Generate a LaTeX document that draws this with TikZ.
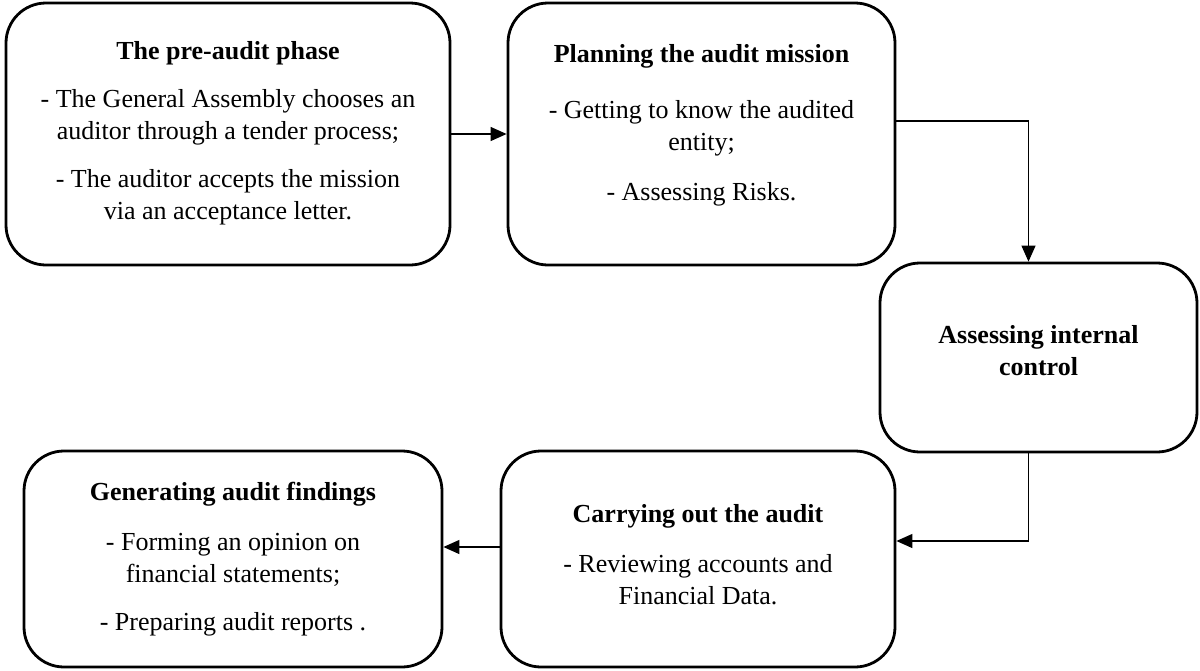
\documentclass[tikz,border=0pt]{standalone}
\usepackage{fontspec}
\setmainfont{Liberation Serif}
\usepackage{xcolor}
\usepackage{tikz}
\usetikzlibrary{arrows.meta,positioning}

\begin{document}
\begin{tikzpicture}[%
      x=0.5pt, y=-0.5pt,
      phase/.style={draw, line width=1.4pt, rounded corners=20pt, align=center,
        inner sep=0pt, font=\fontsize{13}{16}\selectfont},
      flow/.style={line width=0.6pt, -{Triangle[length=8pt,width=7pt]}}]
    \useasboundingbox (0,0) rectangle (1200,670);
    \node[phase, minimum width=222pt, minimum height=131pt] (pre) at (228,134)
      {\textbf{The pre-audit phase}\\[8pt]
       - The General Assembly chooses an\\ auditor through a tender process;\\[8pt]
       - The auditor accepts the mission\\ via an acceptance letter.\\[-12pt]};
    \node[phase, minimum width=193.5pt, minimum height=131pt] (plan) at (701.5,134)
      {\textbf{Planning the audit mission}\\[12pt]
       - Getting to know the audited\\ entity;\\[9pt]
       - Assessing Risks.\\[-4pt]};
    \node[phase, minimum width=158.5pt, minimum height=94.5pt] (control) at (1038.5,357.5)
      {\textbf{Assessing internal}\\ \textbf{control}\\[-9pt]};
    \node[phase, minimum width=197pt, minimum height=108pt] (audit) at (698,559)
      {\textbf{Carrying out the audit}\\[9pt]
       - Reviewing accounts and\\ Financial Data.\\[-11pt]};
    \node[phase, minimum width=209pt, minimum height=108pt] (findings) at (233,559)
      {\textbf{Generating audit findings}\\[9pt]
       - Forming an opinion on\\ financial statements;\\[8pt]
       - Preparing audit reports .};
    \draw[flow] (pre) -- (plan);
    \draw[flow] ([yshift=6.5pt]plan.east) -| ([xshift=-5pt]control.north);
    \draw[flow] ([xshift=-5pt]control.south) |- ([yshift=9pt]audit.east);
    \draw[flow] ([yshift=6pt]audit.west) -- ([yshift=6pt]findings.east);
\end{tikzpicture}
\end{document}
